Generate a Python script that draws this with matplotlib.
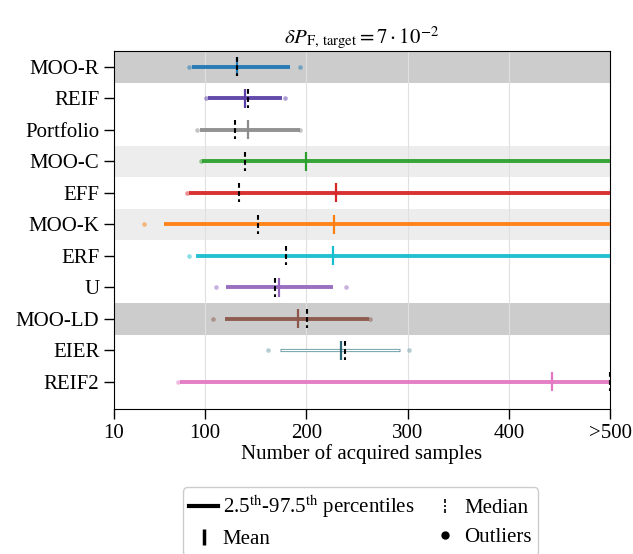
import numpy as np
import matplotlib
matplotlib.use("Agg")
import matplotlib.pyplot as plt
from matplotlib.lines import Line2D
from matplotlib.path import Path

plt.rcParams['font.family'] = ['Liberation Serif', 'DejaVu Serif']
plt.rcParams['mathtext.fontset'] = 'stix'
plt.rcParams['font.size'] = 15

# results per method (number of acquired samples, capped at 500)
methods = ['MOO-R', 'REIF', 'Portfolio', 'MOO-C', 'EFF', 'MOO-K',
           'ERF', 'U', 'MOO-LD', 'EIER', 'REIF2']
colors = ['#1f77b4', '#5a3fa6', '#8c8c8c', '#2ca02c', '#d62728', '#ff7f0e',
          '#17becf', '#9467bd', '#8c564b', '#6f9ea8', '#e377c2']
p_low = [87, 103, 95, 97, 84, 59, 91, 121, 120, 174, 75]
p_high = [184, 176, 194, 500, 500, 500, 500, 226, 262, 293, 500]
means = [132, 139, 142, 200, 229, 227, 226, 173, 192, 234, 443]
medians = [132, 142, 130, 139, 134, 152, 180, 169, 201, 238, 500]
outliers = [[84, 194], [101, 179], [92, 194], [96], [82], [40], [84],
            [111, 239], [108, 263], [162, 301], [73]]
band = ['#cccccc', None, None, '#ededed', None, '#ededed', None, None,
        '#cccccc', None, None]

fig, ax = plt.subplots(figsize=(6.33, 5.54), dpi=100)
fig.subplots_adjust(left=0.180, right=0.9637, top=0.9079, bottom=0.2617)

ypos = np.arange(len(methods))
for i, m in enumerate(methods):
    y = ypos[i]
    if band[i] is not None:
        ax.axhspan(y - 0.5, y + 0.5, color=band[i], zorder=0, lw=0)
    c = colors[i]
    if m == 'EIER':
        # hollow bar: coloured edge with white core
        ax.hlines(y, p_low[i], p_high[i], color=c, lw=2.3, zorder=3)
        ax.hlines(y, p_low[i] + 1, p_high[i] - 1, color='white', lw=0.9, zorder=3)
        mean_c = '#2d6878'
    else:
        ax.hlines(y, p_low[i], p_high[i], color=c, lw=2.8, alpha=0.95, zorder=3)
        mean_c = c
    ax.scatter(outliers[i], [y] * len(outliers[i]), s=11, color=c,
               alpha=0.5, lw=0, zorder=2)
    ax.vlines(means[i], y - 0.3, y + 0.3, color=mean_c, lw=1.6, zorder=4)
    ax.vlines(medians[i], y - 0.3, y + 0.3, color='k', lw=1.5,
              linestyles=(0, (2.3, 1.6)), zorder=5)

ax.set_yticks(ypos)
ax.set_yticklabels(methods)
ax.set_ylim(10.86, -0.5)
ax.set_xlim(10, 500)
ax.set_xticks([10, 100, 200, 300, 400, 500])
ax.set_xticklabels(['10', '100', '200', '300', '400', '>500'])
ax.xaxis.grid(True, color='#e0e0e0', lw=0.8, zorder=0)
ax.set_axisbelow(True)
ax.tick_params(length=7, width=1)
ax.set_xlabel('Number of acquired samples', labelpad=1)
ax.set_title(r'$\delta P_{\mathrm{F,\,target}} = 7 \cdot 10^{-2}$', fontsize=15, pad=5)

# dashed vertical marker for the median entry
dash = Path([(0, -1), (0, -0.45), (0, -0.2), (0, 0.2), (0, 0.45), (0, 1)],
            [Path.MOVETO, Path.LINETO, Path.MOVETO, Path.LINETO,
             Path.MOVETO, Path.LINETO])
handles = [
    Line2D([], [], color='k', lw=3),
    Line2D([], [], color='k', lw=0, marker='|', markersize=12, markeredgewidth=2.5),
    Line2D([], [], color='k', lw=0, marker=dash, markersize=10, markeredgewidth=1.2),
    Line2D([], [], color='k', lw=0, marker='o', markersize=5),
]
labels = [r'2.5$^{\mathrm{th}}$-97.5$^{\mathrm{th}}$ percentiles', 'Mean',
          'Median', 'Outliers']
ax.legend(handles, labels, loc='upper center', bbox_to_anchor=(0.497, -0.19),
          ncol=2, handlelength=1.4, handletextpad=0.2, columnspacing=0.8,
          fancybox=True, edgecolor='#cccccc', framealpha=1, borderpad=0.3,
          labelspacing=0.45, fontsize=15)

fig.savefig('out.png', dpi=100)
